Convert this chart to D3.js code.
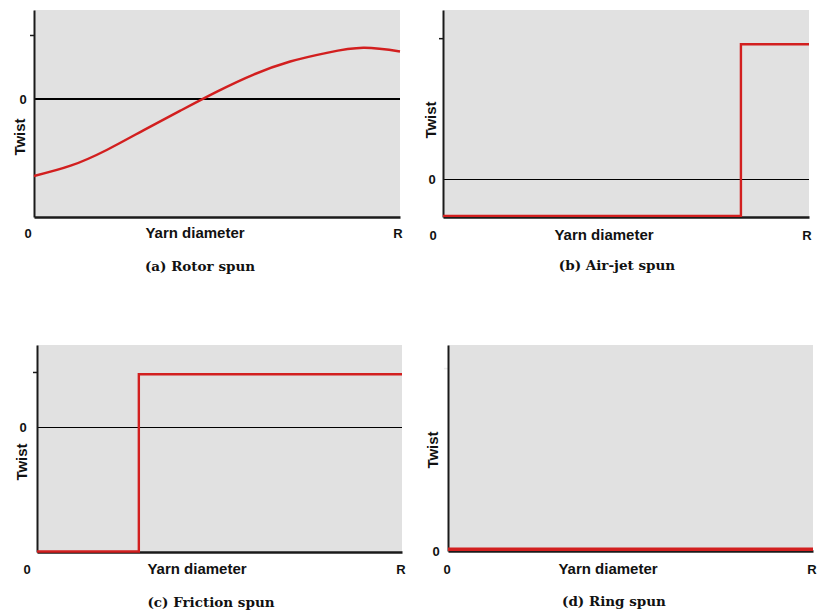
<!DOCTYPE html>
<html>
<head>
<meta charset="utf-8">
<script src="https://cdn.jsdelivr.net/npm/d3@7"></script>
<style>
  body { margin: 0; background: #fff; }
  svg { display: block; }
</style>
</head>
<body>
<svg id="chart" width="817" height="613"></svg>
<script>
// ---------- data ----------
const panelTitles = ["(a) Rotor spun", "(b) Air-jet spun", "(c) Friction spun", "(d) Ring spun"];
const xAxisLabels = ["0", "Yarn diameter", "R"];
const yAxisTitle = "Twist";
const zeroLabel = "0";

// relative position across yarn diameter (0 = centre, 1 = R) and twist (arbitrary units, tick at 1)
const rotorPos   = [0, 0.1, 0.2, 0.3, 0.4, 0.5, 0.6, 0.7, 0.8, 0.9, 1.0];
const rotorTwist = [-1.20, -1.04, -0.79, -0.484, -0.18, 0.117, 0.383, 0.586, 0.722, 0.80, 0.742];

const airjetPos   = [0, 0.814, 0.814, 1.0];
const airjetTwist = [-0.262, -0.262, 0.957, 0.957];

const frictionPos   = [0, 0.279, 0.279, 1.0];
const frictionTwist = [-2.26, -2.26, 0.96, 0.96];

const ringPos   = [0, 1.0];
const ringTwist = [0.01, 0.01];

const yDomains = [[-1.84, 1.39], [-0.27, 1.20], [-2.27, 1.49], [0, 1.126]];
const tickValues = [[1], [1], [1], [1]];

// ---------- layout (positions / styles) ----------
const layout = [
  { x0: 34,  x1: 400, y0: 10,  y1: 217, zeroW: 2,   twist: [20, 137],  zeroLx: 23,  xlab: [28, 195, 398], xlabY: 233, titleX: 200, titleY: 266, tickOpacity: 1 },
  { x0: 443, x1: 809, y0: 10,  y1: 217, zeroW: 1,   twist: [431, 120], zeroLx: 432, xlab: [433, 604, 807], xlabY: 235, titleX: 617, titleY: 265, tickOpacity: 1 },
  { x0: 37,  x1: 402, y0: 345, y1: 552, zeroW: 1,   twist: [22, 462],  zeroLx: 23,  xlab: [27, 197, 401], xlabY: 569, titleX: 211, titleY: 602, tickOpacity: 1 },
  { x0: 448, x1: 813, y0: 345, y1: 551, zeroW: 0,   twist: [433, 450], zeroLx: 436, xlab: [447, 608, 812], xlabY: 569, titleX: 614, titleY: 601, tickOpacity: 0.08 }
];

const series = [
  { pos: rotorPos, twist: rotorTwist, curve: d3.curveNatural, width: 2.4 },
  { pos: airjetPos, twist: airjetTwist, curve: d3.curveLinear, width: 2.4 },
  { pos: frictionPos, twist: frictionTwist, curve: d3.curveLinear, width: 2.4 },
  { pos: ringPos, twist: ringTwist, curve: d3.curveLinear, width: 3.5 }
];

const RED = "#d21f1f";
const GRAY = "#e1e1e1";
const AXIS = "#1a1a1a";
const sansBold = "'Liberation Sans', Arial, sans-serif";
const serifBold = "'DejaVu Serif', serif";

const svg = d3.select("#chart");

layout.forEach((L, i) => {
  const g = svg.append("g");
  const x = d3.scaleLinear().domain([0, 1]).range([L.x0, L.x1]);
  const y = d3.scaleLinear().domain(yDomains[i]).range([L.y1, L.y0]);

  // plot background
  g.append("rect")
    .attr("x", L.x0).attr("y", L.y0)
    .attr("width", L.x1 - L.x0).attr("height", L.y1 - L.y0)
    .attr("fill", GRAY);

  // zero reference line
  if (L.zeroW > 0) {
    const zy = Math.round(y(0)) + (L.zeroW % 2 ? 0.5 : 0);
    g.append("line")
      .attr("x1", x(0)).attr("x2", x(1))
      .attr("y1", zy).attr("y2", zy)
      .attr("stroke", "#000").attr("stroke-width", L.zeroW)
      .attr("shape-rendering", "crispEdges");
  }

  // y axis (line + tick)
  const yAxis = d3.axisLeft(y).tickValues(tickValues[i]).tickSize(4).tickFormat("").tickSizeOuter(0);
  const ya = g.append("g").attr("transform", `translate(${L.x0},0)`).call(yAxis);
  ya.select(".domain").attr("stroke", AXIS).attr("stroke-width", 2);
  ya.selectAll(".tick line").attr("stroke", AXIS).attr("stroke-width", 1.5).attr("opacity", L.tickOpacity);

  // x axis line
  const xAxis = d3.axisBottom(x).tickValues([]).tickSizeOuter(0);
  const xa = g.append("g").attr("transform", `translate(0,${L.y1})`).call(xAxis);
  xa.select(".domain").attr("stroke", AXIS).attr("stroke-width", 2.5);

  // series line
  const s = series[i];
  const pts = s.pos.map((p, k) => [p, s.twist[k]]);
  const line = d3.line().x(d => x(d[0])).y(d => y(d[1])).curve(s.curve);
  g.append("path")
    .attr("d", line(pts))
    .attr("fill", "none")
    .attr("stroke", RED)
    .attr("stroke-width", s.width)
    .attr("stroke-linejoin", "miter");

  // zero label
  g.append("text")
    .attr("x", L.zeroLx).attr("y", y(0))
    .attr("dy", "0.35em")
    .attr("text-anchor", "middle")
    .attr("font-family", sansBold).attr("font-weight", "bold").attr("font-size", 13)
    .attr("fill", "#111")
    .text(zeroLabel);

  // y title
  g.append("text")
    .attr("transform", `translate(${L.twist[0]},${L.twist[1]}) rotate(-90)`)
    .attr("dy", "0.35em")
    .attr("text-anchor", "middle")
    .attr("font-family", sansBold).attr("font-weight", "bold").attr("font-size", 15)
    .attr("fill", "#111")
    .text(yAxisTitle);

  // x labels
  xAxisLabels.forEach((t, k) => {
    g.append("text")
      .attr("x", L.xlab[k]).attr("y", L.xlabY)
      .attr("dy", "0.35em")
      .attr("text-anchor", "middle")
      .attr("font-family", sansBold).attr("font-weight", "bold")
      .attr("font-size", k === 1 ? 15 : 13)
      .attr("fill", "#111")
      .text(t);
  });

  // panel title
  g.append("text")
    .attr("x", L.titleX).attr("y", L.titleY)
    .attr("dy", "0.35em")
    .attr("text-anchor", "middle")
    .attr("font-family", serifBold).attr("font-weight", "bold").attr("font-size", 13.5)
    .attr("fill", "#111")
    .text(panelTitles[i]);
});
</script>
</body>
</html>
